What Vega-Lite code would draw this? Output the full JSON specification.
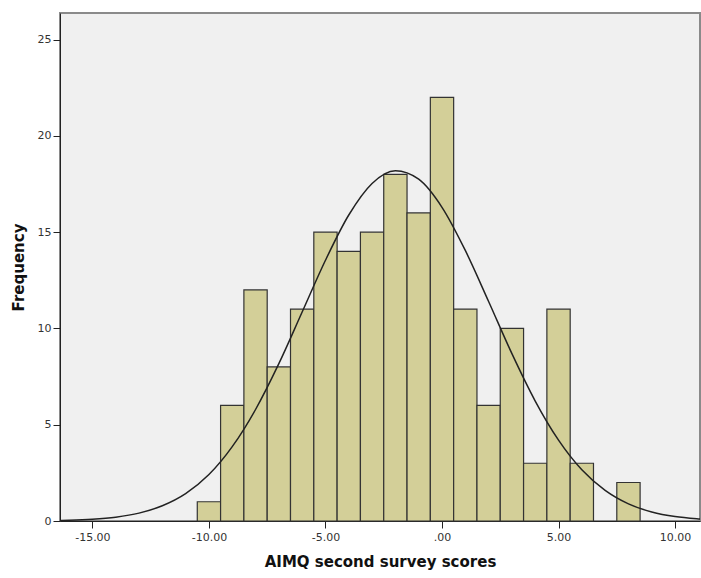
{
  "$schema": "https://vega.github.io/schema/vega-lite/v6.json",
  "width": 640,
  "height": 508,
  "autosize": {"type": "none"},
  "padding": {"left": 60, "top": 13, "right": 1, "bottom": 57},
  "background": "white",
  "config": {
    "view": {"fill": "#f0f0f0", "stroke": "#8a8a8a", "strokeWidth": 2},
    "font": "DejaVu Sans",
    "axis": {"grid": false, "domainColor": "#222222", "tickColor": "#222222", "labelColor": "#333333", "labelFont": "DejaVu Sans", "labelFontSize": 11, "titleFont": "DejaVu Sans", "titleFontWeight": "bold", "titleColor": "#111111"}
  },
  "datasets": {
    "bins": [
      {"lo": -10.5, "hi": -9.5, "count": 1},
      {"lo": -9.5, "hi": -8.5, "count": 6},
      {"lo": -8.5, "hi": -7.5, "count": 12},
      {"lo": -7.5, "hi": -6.5, "count": 8},
      {"lo": -6.5, "hi": -5.5, "count": 11},
      {"lo": -5.5, "hi": -4.5, "count": 15},
      {"lo": -4.5, "hi": -3.5, "count": 14},
      {"lo": -3.5, "hi": -2.5, "count": 15},
      {"lo": -2.5, "hi": -1.5, "count": 18},
      {"lo": -1.5, "hi": -0.5, "count": 16},
      {"lo": -0.5, "hi": 0.5, "count": 22},
      {"lo": 0.5, "hi": 1.5, "count": 11},
      {"lo": 1.5, "hi": 2.5, "count": 6},
      {"lo": 2.5, "hi": 3.5, "count": 10},
      {"lo": 3.5, "hi": 4.5, "count": 3},
      {"lo": 4.5, "hi": 5.5, "count": 11},
      {"lo": 5.5, "hi": 6.5, "count": 3},
      {"lo": 7.5, "hi": 8.5, "count": 2}
    ],
    "curve": [
      {"x": -16.5, "y": 0.026},
      {"x": -16, "y": 0.04},
      {"x": -15, "y": 0.092},
      {"x": -14, "y": 0.2},
      {"x": -13, "y": 0.41},
      {"x": -12, "y": 0.79},
      {"x": -11, "y": 1.42},
      {"x": -10, "y": 2.41},
      {"x": -9, "y": 3.86},
      {"x": -8, "y": 5.79},
      {"x": -7, "y": 8.17},
      {"x": -6, "y": 10.85},
      {"x": -5, "y": 13.54},
      {"x": -4, "y": 15.89},
      {"x": -3, "y": 17.53},
      {"x": -2, "y": 18.19},
      {"x": -1, "y": 17.75},
      {"x": 0, "y": 16.29},
      {"x": 1, "y": 14.05},
      {"x": 2, "y": 11.4},
      {"x": 3, "y": 8.69},
      {"x": 4, "y": 6.23},
      {"x": 5, "y": 4.2},
      {"x": 6, "y": 2.66},
      {"x": 7, "y": 1.59},
      {"x": 8, "y": 0.89},
      {"x": 9, "y": 0.47},
      {"x": 10, "y": 0.23},
      {"x": 11, "y": 0.11},
      {"x": 11.5, "y": 0.07}
    ]
  },
  "layer": [
    {
      "data": {"name": "bins"},
      "mark": {"type": "rect", "fill": "#d3cf98", "stroke": "#333333", "strokeWidth": 1.2},
      "encoding": {
        "x": {
          "field": "lo", "type": "quantitative",
          "scale": {"domain": [-16.39, 11.07], "nice": false, "zero": false},
          "axis": {
            "title": "AIMQ second survey scores",
            "titleFontSize": 15,
            "titlePadding": 12,
            "values": [-15, -10, -5, 0, 5, 10],
            "labelExpr": "datum.value == 0 ? '.00' : datum.value + '.00'",
            "tickSize": 7,
            "labelPadding": 3,
            "labelFlush": false
          }
        },
        "x2": {"field": "hi"},
        "y": {
          "field": "count", "type": "quantitative",
          "scale": {"domain": [0, 26.38], "nice": false},
          "axis": {
            "title": "Frequency",
            "titleFontSize": 15,
            "titlePadding": 11,
            "values": [0, 5, 10, 15, 20, 25],
            "tickSize": 7,
            "labelPadding": 2,
            "labelFlush": false
          }
        },
        "y2": {"datum": 0}
      }
    },
    {
      "data": {"name": "curve"},
      "mark": {"type": "line", "color": "#222222", "strokeWidth": 1.5, "interpolate": "monotone", "clip": true},
      "encoding": {
        "x": {"field": "x", "type": "quantitative"},
        "y": {"field": "y", "type": "quantitative"}
      }
    }
  ]
}
